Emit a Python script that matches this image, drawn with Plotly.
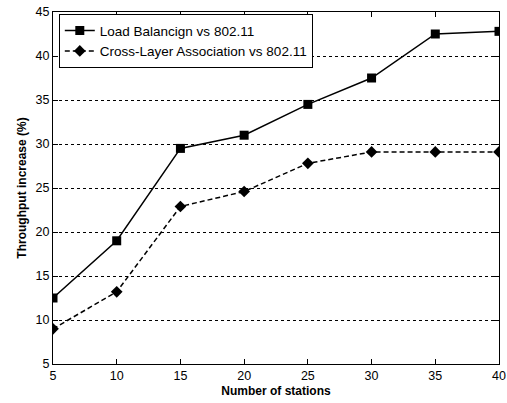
import plotly.graph_objects as go

stations = [5, 10, 15, 20, 25, 30, 35, 40]
load_balancing = [12.5, 19.0, 29.5, 31.0, 34.5, 37.5, 42.5, 42.8]
cross_layer = [9.0, 13.2, 22.9, 24.6, 27.8, 29.1, 29.1, 29.1]
series_names = ["Load Balancign vs 802.11", "Cross-Layer Association vs 802.11"]
x_ticks = [5, 10, 15, 20, 25, 30, 35, 40]
y_ticks = [5, 10, 15, 20, 25, 30, 35, 40, 45]

fig = go.Figure()
fig.add_trace(go.Scatter(
    x=stations, y=load_balancing, name=series_names[0], mode="lines+markers",
    line=dict(color="black", width=1.5),
    marker=dict(symbol="square", size=9, color="black"),
))
fig.add_trace(go.Scatter(
    x=stations, y=cross_layer, name=series_names[1], mode="lines+markers",
    line=dict(color="black", width=1.5, dash="5px,3px"),
    marker=dict(symbol="diamond", size=9, color="black"),
))

fig.update_layout(
    width=507, height=403,
    margin=dict(l=53, r=8, t=12, b=39, autoexpand=False),
    paper_bgcolor="white", plot_bgcolor="white",
    font=dict(family="Liberation Sans, Arial, sans-serif", size=12.5, color="black"),
    showlegend=True,
    legend=dict(
        x=0.013, y=0.994, xanchor="left", yanchor="top",
        bgcolor="white", bordercolor="black", borderwidth=1,
        font=dict(size=13.5), tracegroupgap=0, itemwidth=30,
    ),
    xaxis=dict(
        range=[5, 40], tickvals=x_ticks, ticks="inside", ticklen=5, tickcolor="black",
        showline=True, linecolor="black", linewidth=1, mirror="ticks",
        showgrid=False, zeroline=False, automargin=False,
        title=dict(text="<b>Number of stations</b>", font=dict(size=12), standoff=4),
    ),
    yaxis=dict(
        range=[5, 45], tickvals=y_ticks, ticks="inside", ticklen=5, tickcolor="black",
        showline=True, linecolor="black", linewidth=1, mirror="ticks",
        showgrid=True, gridcolor="black", gridwidth=1, griddash="3px,3px",
        zeroline=False, automargin=False,
        title=dict(text="<b>Throughput increase (%)</b>", font=dict(size=12), standoff=6),
    ),
)

fig.write_html("out.html")
